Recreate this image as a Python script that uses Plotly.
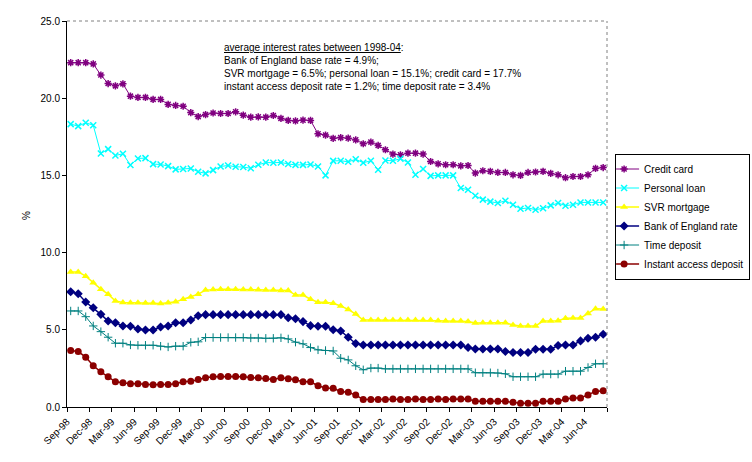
import plotly.graph_objects as go
import pandas as pd

# ---- categories (monthly, Sep-98 .. Aug-04) ----
months = pd.date_range("1998-09-01", periods=72, freq="MS")
tick_dates = list(months[::3]) + [pd.Timestamp("2004-09-01")]
tick_labels = [d.strftime("%b-%y") for d in months[::3]] + [""]

# ---- series values (%) ----
credit_card = [22.30, 22.30, 22.30, 22.22, 21.50, 20.95, 20.80, 20.93, 20.13, 20.05,
               20.05, 19.92, 19.92, 19.60, 19.53, 19.48, 19.07, 18.81, 18.94, 19.04,
               19.01, 19.01, 19.12, 18.90, 18.77, 18.79, 18.77, 18.88, 18.69, 18.56,
               18.53, 18.58, 18.56, 17.69, 17.61, 17.40, 17.45, 17.41, 17.30, 17.05,
               17.16, 16.94, 16.66, 16.38, 16.33, 16.44, 16.44, 16.38, 15.90, 15.75,
               15.69, 15.69, 15.62, 15.64, 15.15, 15.30, 15.26, 15.19, 15.19, 15.04,
               15.00, 15.19, 15.22, 15.26, 15.13, 15.04, 14.85, 14.93, 14.93, 15.04,
               15.45, 15.51]

personal_loan = [18.32, 18.19, 18.41, 18.25, 16.42, 16.70, 16.29, 16.40, 15.67, 16.10,
                 16.12, 15.73, 15.71, 15.60, 15.39, 15.42, 15.45, 15.24, 15.13, 15.34,
                 15.58, 15.64, 15.56, 15.54, 15.46, 15.69, 15.83, 15.82, 15.84, 15.74,
                 15.68, 15.68, 15.71, 15.58, 15.00, 15.94, 15.95, 15.88, 16.04, 15.82,
                 15.95, 15.36, 15.97, 15.95, 16.08, 15.84, 15.04, 15.41, 14.97, 15.00,
                 15.00, 15.00, 14.18, 14.07, 13.68, 13.43, 13.30, 13.21, 13.36, 13.10,
                 12.84, 12.89, 12.78, 12.87, 13.06, 13.21, 13.04, 13.10, 13.25, 13.25,
                 13.25, 13.25]

svr_mortgage = [8.75, 8.75, 8.47, 8.04, 7.63, 7.31, 6.86, 6.77, 6.75, 6.75,
                6.73, 6.73, 6.71, 6.75, 6.81, 6.98, 7.13, 7.31, 7.57, 7.61,
                7.63, 7.63, 7.63, 7.61, 7.61, 7.59, 7.57, 7.57, 7.55, 7.55,
                7.25, 7.25, 6.98, 6.79, 6.79, 6.72, 6.54, 6.32, 6.02, 5.63,
                5.63, 5.63, 5.63, 5.63, 5.63, 5.63, 5.63, 5.63, 5.63, 5.59,
                5.57, 5.57, 5.57, 5.53, 5.44, 5.46, 5.46, 5.46, 5.46, 5.31,
                5.25, 5.25, 5.25, 5.57, 5.57, 5.59, 5.74, 5.76, 5.76, 6.06,
                6.37, 6.34]

boe_rate = [7.46, 7.33, 6.80, 6.43, 6.00, 5.57, 5.46, 5.25, 5.23, 5.05,
            4.99, 4.99, 5.18, 5.25, 5.46, 5.46, 5.63, 5.91, 5.98, 5.98,
            5.98, 5.98, 5.98, 5.98, 5.98, 5.98, 5.98, 5.98, 5.98, 5.78,
            5.72, 5.53, 5.27, 5.23, 5.23, 5.00, 4.92, 4.52, 4.11, 4.02,
            4.02, 4.02, 4.02, 4.02, 4.02, 4.02, 4.02, 4.02, 4.02, 4.02,
            4.02, 4.02, 4.02, 3.85, 3.76, 3.76, 3.76, 3.76, 3.59, 3.53,
            3.53, 3.53, 3.74, 3.74, 3.74, 3.98, 4.02, 4.02, 4.28, 4.45,
            4.52, 4.71]

time_deposit = [6.22, 6.22, 5.85, 5.25, 4.88, 4.52, 4.13, 4.13, 4.02, 4.00,
                4.00, 4.00, 3.94, 3.89, 3.94, 3.94, 4.19, 4.22, 4.50, 4.50,
                4.50, 4.50, 4.50, 4.50, 4.47, 4.47, 4.45, 4.45, 4.48, 4.41,
                4.20, 4.09, 3.85, 3.70, 3.66, 3.63, 3.16, 3.05, 2.67, 2.41,
                2.52, 2.52, 2.47, 2.47, 2.47, 2.47, 2.47, 2.47, 2.47, 2.47,
                2.47, 2.47, 2.47, 2.47, 2.22, 2.22, 2.22, 2.20, 2.15, 1.96,
                1.96, 1.96, 1.96, 2.13, 2.13, 2.13, 2.32, 2.32, 2.32, 2.56,
                2.80, 2.80]

instant_access = [3.66, 3.59, 3.23, 2.67, 2.28, 1.96, 1.63, 1.57, 1.51, 1.51,
                  1.46, 1.44, 1.46, 1.46, 1.51, 1.63, 1.66, 1.78, 1.89, 1.96,
                  1.98, 1.98, 1.98, 1.96, 1.91, 1.89, 1.85, 1.78, 1.89, 1.83,
                  1.76, 1.63, 1.63, 1.38, 1.23, 1.21, 1.01, 0.95, 0.77, 0.49,
                  0.49, 0.49, 0.49, 0.52, 0.49, 0.49, 0.52, 0.49, 0.49, 0.52,
                  0.49, 0.52, 0.52, 0.52, 0.37, 0.37, 0.37, 0.37, 0.37, 0.30,
                  0.24, 0.24, 0.24, 0.37, 0.37, 0.37, 0.52, 0.58, 0.58, 0.77,
                  1.01, 1.05]

series_names = ["Credit card", "Personal loan", "SVR mortgage",
                "Bank of England rate", "Time deposit", "Instant access deposit"]
series_values = [credit_card, personal_loan, svr_mortgage,
                 boe_rate, time_deposit, instant_access]

styles = [
    dict(color="#800080", symbol="asterisk-open", size=6, lw=1, mlw=1.5),
    dict(color="#00FFFF", symbol="x-thin-open", size=6, lw=1, mlw=1.5),
    dict(color="#FFFF00", symbol="triangle-up", size=7, lw=1.5, mlw=0),
    dict(color="#000080", symbol="diamond", size=7, lw=1.5, mlw=0),
    dict(color="#008080", symbol="cross-thin-open", size=6, lw=1, mlw=1),
    dict(color="#8B0000", symbol="circle", size=7, lw=1.5, mlw=0),
]

fig = go.Figure()
for name, vals, st in zip(series_names, series_values, styles):
    fig.add_trace(go.Scatter(
        x=months, y=vals, name=name, mode="lines+markers",
        xperiod="M1", xperiodalignment="middle",
        line=dict(color=st["color"], width=st["lw"]),
        marker=dict(symbol=st["symbol"], size=st["size"], color=st["color"],
                    line=dict(color=st["color"], width=st["mlw"])),
    ))

FONT = "Liberation Sans, Arial, sans-serif"

fig.update_layout(
    template="none",
    width=752, height=462,
    margin=dict(l=67, r=145, t=21, b=55, autoexpand=False),
    paper_bgcolor="white", plot_bgcolor="white",
    font=dict(family=FONT, size=10, color="black"),
    showlegend=True,
    legend=dict(x=1.015, y=0.4935, xanchor="left", yanchor="middle",
                bordercolor="black", borderwidth=1, bgcolor="white",
                font=dict(family=FONT, size=10, color="black"),
                itemwidth=30, tracegroupgap=0, indentation=-12),
    annotations=[
        dict(text="<u>average interest rates between 1998-04</u>:<br>"
                  "Bank of England base rate = 4.9%;<br>"
                  "SVR mortgage = 6.5%; personal loan = 15.1%; credit card = 17.7%<br>"
                  "instant access deposit rate = 1.2%; time deposit rate = 3.4%",
             xref="paper", yref="paper", x=0.287, y=0.951,
             xanchor="left", yanchor="top", align="left", showarrow=False,
             font=dict(family=FONT, size=10, color="black")),
        dict(text="%", xref="paper", yref="paper", x=-0.09, y=0.497,
             textangle=-90, showarrow=False,
             font=dict(family=FONT, size=10, color="black")),
    ],
    shapes=[
        dict(type="line", xref="paper", yref="paper", x0=0, x1=1, y0=1, y1=1,
             line=dict(color="#808080", width=1, dash="dot")),
        dict(type="line", xref="paper", yref="paper", x0=1, x1=1, y0=0, y1=1,
             line=dict(color="#808080", width=1, dash="dot")),
    ],
)

fig.update_xaxes(
    type="date", range=["1998-09-01", "2004-09-01"],
    tickmode="array", tickvals=tick_dates, ticktext=tick_labels,
    tickangle=-45, ticks="outside", ticklen=4, tickcolor="black",
    showline=True, linecolor="black", linewidth=1,
    showgrid=False, zeroline=False, automargin=False,
    tickfont=dict(family=FONT, size=10, color="black"),
)
fig.update_yaxes(
    range=[0, 25], tickmode="linear", tick0=0, dtick=5, tickformat=".1f",
    ticks="outside", ticklen=4, tickcolor="black",
    showline=True, linecolor="black", linewidth=1,
    showgrid=False, zeroline=False, automargin=False,
    tickfont=dict(family=FONT, size=10, color="black"),
)

fig.write_html("out.html",
               config={"displayModeBar": False},
               post_script="document.body.style.margin='0px';"
                           "document.body.style.overflow='hidden';")
